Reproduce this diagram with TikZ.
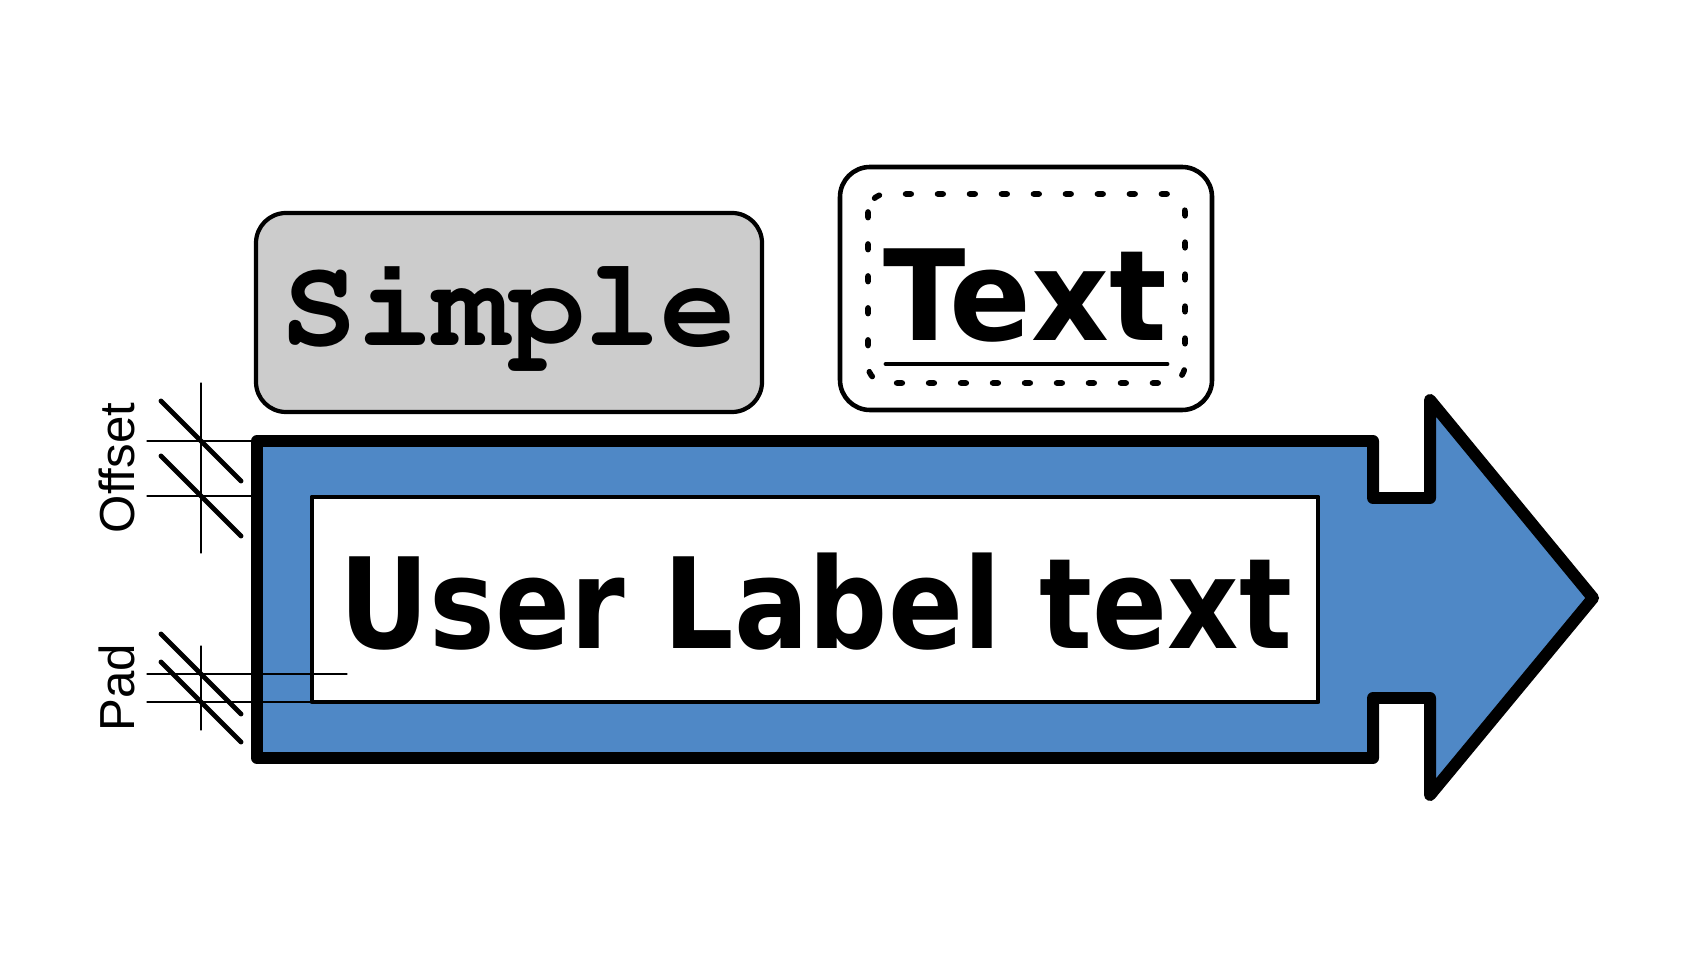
\documentclass[tikz,border=0pt]{standalone}
\usepackage{graphicx}
\usepackage{fontspec}
\setmainfont{Liberation Sans}
\newfontfamily\boldlabel{DejaVu Sans}
\definecolor{arrowblue}{HTML}{4F88C6}
\definecolor{boxgray}{HTML}{CCCCCC}

\begin{document}
\begin{tikzpicture}[x=1cm,y=-1cm,line join=round,line cap=round,
    dimline/.style={line width=0.35pt},
    slash/.style={line width=1.4pt},
    bigtext/.style={anchor=base,inner sep=0pt,font=\boldlabel\bfseries\fontsize{35.8}{40}\selectfont},
    dimtext/.style={rotate=90,inner sep=0pt,font=\fontsize{14}{16}\selectfont}]

  \useasboundingbox (0,0) rectangle (16.84,9.68);

  % ---- il riquadro "Simple" -------------------------------------------------
  \draw[line width=1.2pt,fill=boxgray,rounded corners=0.30cm] (2.56,2.13) rectangle (7.62,4.12);
  \node[anchor=base,inner sep=0pt,font=\usefont{OT1}{pcr}{b}{n}\fontsize{36}{40}\selectfont]
    (simple) at (5.09,3.46) {Simple};

  % ---- il riquadro "Text" ---------------------------------------------------
  \draw[line width=1.3pt,rounded corners=0.30cm] (8.40,1.67) rectangle (12.12,4.10);
  \draw[line width=1.6pt,dash pattern=on 1.6pt off 7.5pt,rounded corners=0.18cm]
    (8.68,1.94) rectangle (11.85,3.83);
  \node[bigtext] (text) at (10.25,3.41) {\scalebox{0.96}[1]{Text}};
  \draw[line width=1.4pt] (8.86,3.64) -- (11.67,3.64);

  % ---- la freccia -------------------------------------------------------------
  \draw[line width=3.4pt,fill=arrowblue] (2.57,4.41) -- (13.73,4.41) -- (13.73,4.98)
    -- (14.30,4.98) -- (14.30,4.00) -- (15.93,5.98) -- (14.30,7.95) -- (14.30,6.98)
    -- (13.73,6.98) -- (13.73,7.58) -- (2.57,7.58) -- cycle;

  % ---- l'etichetta ------------------------------------------------------------
  \draw[line width=1.4pt,fill=white] (3.12,4.97) rectangle (13.18,7.02);
  \node[bigtext] (userlabel) at (8.16,6.48) {\scalebox{0.88}[1]{User Label text}};

  % ---- quote: Offset ----------------------------------------------------------
  \draw[dimline] (2.01,3.83) -- (2.01,5.53);
  \draw[dimline] (1.47,4.41) -- (2.57,4.41);
  \draw[dimline] (1.47,4.96) -- (2.57,4.96);
  \draw[slash] (1.61,4.01) -- (2.41,4.81);
  \draw[slash] (1.61,4.56) -- (2.41,5.36);
  \node[dimtext] (offset) at (1.17,4.68) {Offset};

  % ---- quote: Pad -------------------------------------------------------------
  \draw[dimline] (2.01,6.46) -- (2.01,7.30);
  \draw[dimline] (1.47,6.74) -- (3.47,6.74);
  \draw[dimline] (1.47,7.02) -- (3.12,7.02);
  \draw[slash] (1.61,6.34) -- (2.41,7.14);
  \draw[slash] (1.61,6.62) -- (2.41,7.42);
  \node[dimtext] (pad) at (1.17,6.88) {Pad};

\end{tikzpicture}
\end{document}
